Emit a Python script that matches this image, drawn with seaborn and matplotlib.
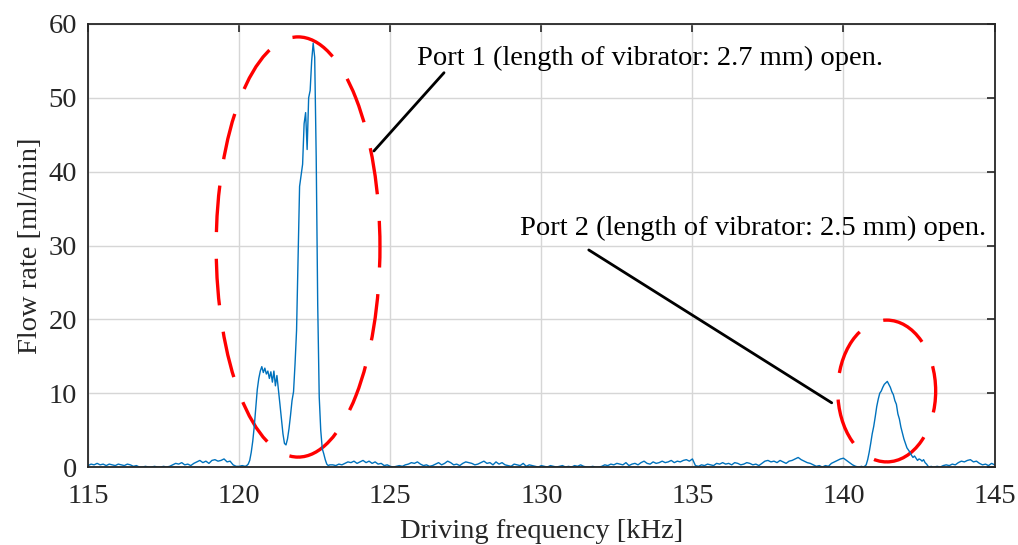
import numpy as np
import pandas as pd
import seaborn as sns
import matplotlib.pyplot as plt
from matplotlib.patches import Ellipse

# baseline 115.0 - 120.2 kHz, step 0.1
base_a_flow = [0.2, 0.4, 0.3, 0.5, 0.3, 0.4, 0.2, 0.4, 0.3, 0.2,
               0.4, 0.3, 0.2, 0.4, 0.3, 0.1, 0.2, 0.0, 0.0, 0.1,
               0.0, 0.0, 0.1, 0.0, 0.0, 0.1, 0.0, 0.1, 0.3, 0.5,
               0.4, 0.6, 0.3, 0.4, 0.2, 0.5, 0.7, 0.9, 0.6, 0.8,
               0.5, 0.9, 1.0, 0.8, 0.9, 1.1, 0.7, 0.8, 0.3, 0.1,
               0.1, 0.2, 0.1]

# port 1 resonance 120.25 - 123.00 kHz, step 0.05
peak1_flow = [0.2, 0.4, 0.9, 2.0, 3.5, 5.5, 8.0, 10.5, 12.0, 13.0,
              13.6, 12.8, 13.4, 12.6, 13.0, 12.0, 12.9, 11.5, 13.0, 11.0,
              12.4, 10.5, 8.5, 6.5, 4.5, 3.2, 3.0, 3.8, 5.2, 7.0,
              9.0, 10.2, 14.0, 18.5, 28.0, 38.0, 39.5, 41.0, 46.5, 48.0,
              43.0, 50.0, 51.0, 55.0, 57.4, 55.5, 42.0, 22.0, 9.5, 5.0,
              2.5, 1.8, 1.0, 0.4, 0.2, 0.3]

# baseline 123.1 - 140.6 kHz, step 0.1
base_b_flow = [0.3, 0.2, 0.4, 0.3, 0.5, 0.7, 0.6, 0.8, 0.5, 0.7,
               0.9, 0.6, 0.8, 0.5, 0.7, 0.4, 0.5, 0.2, 0.3, 0.1,
               0.0, 0.1, 0.2, 0.1, 0.3, 0.4, 0.6, 0.5, 0.7, 0.4,
               0.2, 0.3, 0.1, 0.2, 0.4, 0.6, 0.3, 0.5, 0.8, 0.6,
               0.3, 0.4, 0.2, 0.5, 0.7, 0.6, 0.5, 0.3, 0.4, 0.6,
               0.8, 0.5, 0.6, 0.3, 0.7, 0.4, 0.6, 0.3, 0.2, 0.1,
               0.4, 0.3, 0.2, 0.5, 0.1, 0.3, 0.2, 0.1, 0.0, 0.2,
               0.1, 0.0, 0.2, 0.1, 0.0, 0.1, 0.2, 0.0, 0.1, 0.0,
               0.2, 0.1, 0.3, 0.1, 0.0, 0.0, 0.1, 0.0, 0.0, 0.1,
               0.3, 0.2, 0.4, 0.3, 0.5, 0.4, 0.3, 0.6, 0.2, 0.4,
               0.5, 0.3, 0.6, 0.8, 0.5, 0.4, 0.7, 0.5, 0.6, 0.8,
               0.6, 0.7, 0.9, 0.6, 0.8, 0.7, 0.9, 1.0, 0.8, 1.1,
               0.2, 0.1, 0.3, 0.2, 0.4, 0.3, 0.2, 0.5, 0.4, 0.6,
               0.4, 0.5, 0.3, 0.6, 0.5, 0.3, 0.4, 0.6, 0.5, 0.3,
               0.4, 0.2, 0.5, 0.8, 0.9, 0.7, 0.8, 0.6, 0.9, 0.7,
               0.5, 0.8, 0.9, 1.1, 1.3, 1.0, 0.8, 0.6, 0.5, 0.3,
               0.1, 0.2, 0.0, 0.2, 0.1, 0.5, 0.7, 0.9, 1.1, 1.2,
               0.9, 0.6, 0.3, 0.1, 0.0, 0.1]

# port 2 resonance 140.65 - 142.95 kHz, step 0.05
peak2_flow = [0.0, 0.1, 0.3, 1.0, 2.0, 3.2, 4.5, 5.5, 6.8, 8.2,
              9.2, 10.0, 10.3, 10.8, 11.2, 11.4, 11.6, 11.2, 10.8, 10.2,
              9.8, 9.0, 8.5, 7.2, 6.5, 5.4, 4.6, 3.8, 3.2, 2.6,
              2.3, 2.0, 1.6, 1.3, 1.5, 1.2, 0.9, 1.1, 1.0, 0.8,
              1.0, 0.6, 0.4, 0.1, 0.0, 0.1, 0.0]

# baseline 143.0 - 145.0 kHz, step 0.1
base_c_flow = [0.0, 0.1, 0.0, 0.2, 0.3, 0.2, 0.4, 0.3, 0.6, 0.8,
               0.7, 0.9, 1.0, 0.7, 0.8, 0.5, 0.3, 0.4, 0.2, 0.5,
               0.3]

# (start kHz, step kHz, values) for each stretch of the sweep
segments = [(115.0, 0.1, base_a_flow), (120.25, 0.05, peak1_flow),
            (123.1, 0.1, base_b_flow), (140.65, 0.05, peak2_flow),
            (143.0, 0.1, base_c_flow)]

freq = np.concatenate([start + step * np.arange(len(v)) for start, step, v in segments])
flow = np.concatenate([v for _, _, v in segments])
df = pd.DataFrame({'freq': freq, 'flow': flow})

port1_label = 'Port 1 (length of vibrator: 2.7 mm) open.'
port2_label = 'Port 2 (length of vibrator: 2.5 mm) open.'

# --- Plot ---
sns.set_style('white')
plt.rcParams['font.family'] = ['Liberation Serif', 'DejaVu Serif']

FS = 20.5

fig = plt.figure(figsize=(10.18, 5.45), dpi=100)
ax = fig.add_axes([0.0865, 0.143, 0.8905, 0.813])

sns.lineplot(data=df, x='freq', y='flow', color='#0072BD', linewidth=1.0, ax=ax)

ax.set_xlim(115, 145)
ax.set_ylim(0, 60)
ax.set_xticks([115, 120, 125, 130, 135, 140, 145])
ax.set_yticks([0, 10, 20, 30, 40, 50, 60])
ax.grid(True, color='#d6d6d6', linewidth=1.0)
ax.set_axisbelow(True)
ax.tick_params(direction='in', top=True, right=True, length=6, width=1.2,
               labelsize=FS, colors='#262626')
ax.tick_params(axis='x', pad=12.5)
ax.tick_params(axis='y', pad=8)
for s in ax.spines.values():
    s.set_color('#262626')
    s.set_linewidth(1.3)

ax.set_xlabel('Driving frequency [kHz]', fontsize=FS, color='#262626', labelpad=7)
ax.set_ylabel('Flow rate [ml/min]', fontsize=FS, color='#262626', labelpad=4)

# dashed ellipses around the two resonances
dash = (0, (14, 8))
ax.add_patch(Ellipse((121.95, 29.8), 5.42, 56.9, fill=False, edgecolor='#ff0000',
                     linewidth=2.4, linestyle=dash, clip_on=False))
ax.add_patch(Ellipse((141.43, 10.3), 3.24, 19.2, fill=False, edgecolor='#ff0000',
                     linewidth=2.4, linestyle=dash, clip_on=False))

# annotations
ax.plot([124.46, 126.78], [42.8, 53.4], color='black', linewidth=2.0)
ax.plot([131.57, 139.61], [29.4, 8.7], color='black', linewidth=2.0)
ax.text(125.9, 55.4, port1_label, fontsize=FS, va='center', ha='left', color='black')
ax.text(129.29, 32.3, port2_label, fontsize=FS, va='center', ha='left', color='black')

fig.savefig('out.png', dpi=100)
